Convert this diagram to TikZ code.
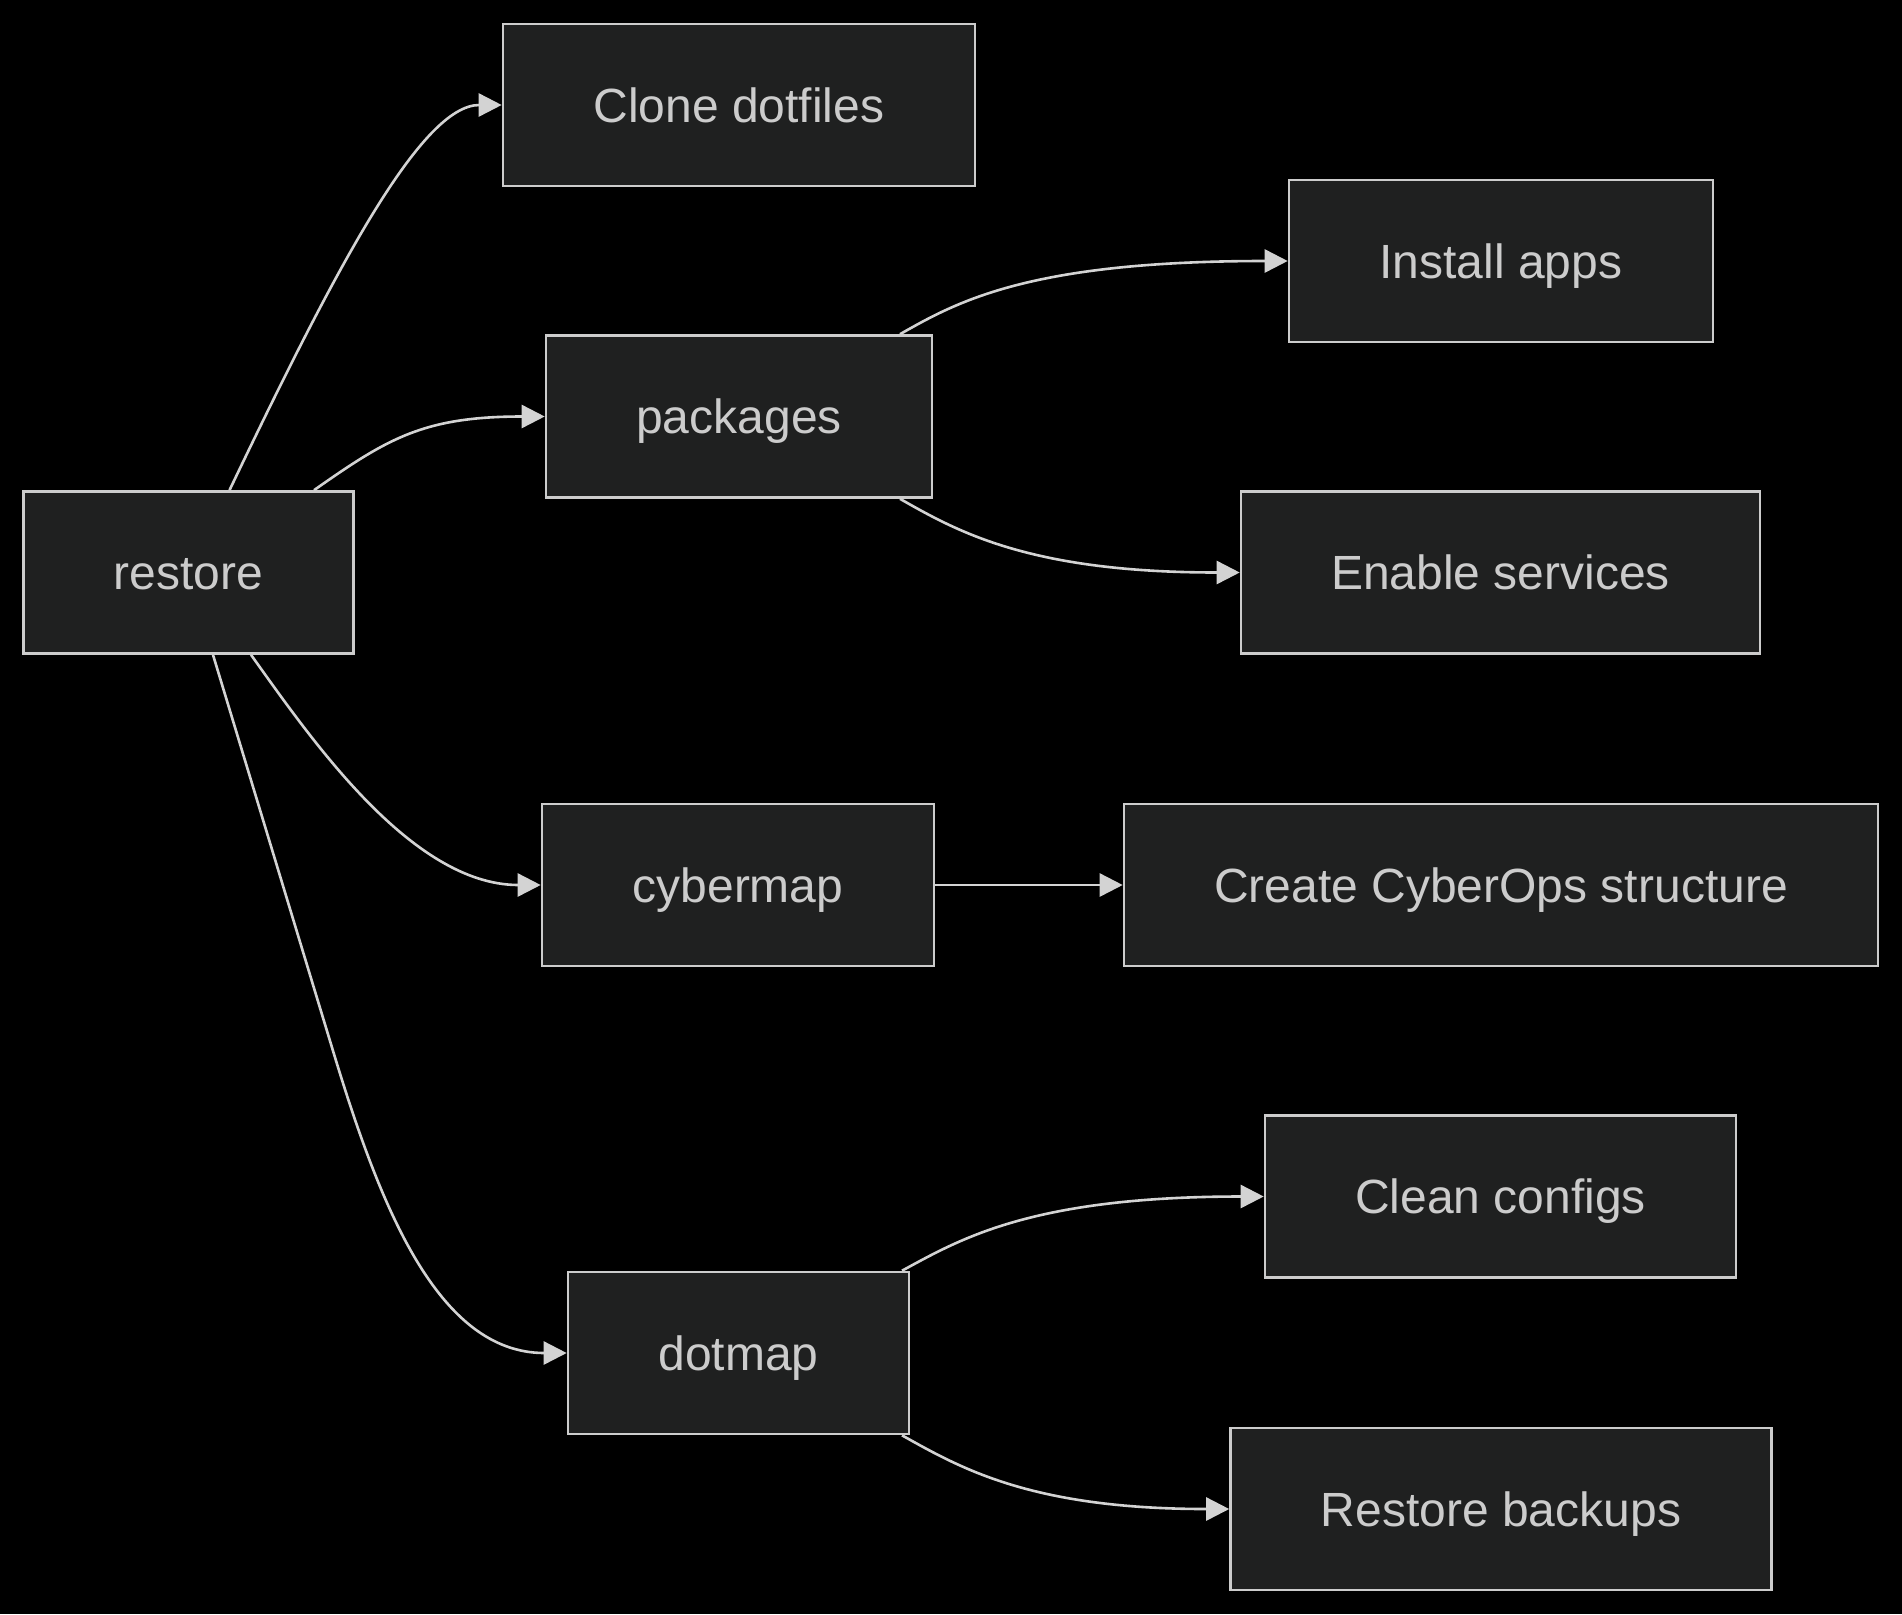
\documentclass[tikz,border=0pt]{standalone}
\usepackage{fontspec}
\setmainfont{Liberation Sans}
\usetikzlibrary{arrows.meta,calc}
\definecolor{boxfill}{HTML}{1F2020}
\definecolor{boxline}{HTML}{CCCCCC}
\definecolor{txt}{HTML}{CCCCCC}
\definecolor{edge}{HTML}{D3D3D3}
\begin{document}
\begin{tikzpicture}[x=1pt,y=-1pt,
  box/.style={draw=boxline,fill=boxfill,line width=2.6pt,inner sep=0pt,
    minimum height=162pt,text height=34.8pt,text depth=0pt,text=txt,
    font=\fontsize{48pt}{58pt}\selectfont},
  conn/.style={draw=edge,line width=2.6pt,-{Triangle[length=23pt,width=23pt]}}]
\fill[black] (0,0) rectangle (1902,1614);
\useasboundingbox (0,0) rectangle (1902,1614);
\node[box,minimum width=330pt] (restore) at (188.5,572.5) {restore};
\node[box,minimum width=472pt] (clone) at (739,105) {Clone dotfiles};
\node[box,minimum width=386pt] (packages) at (739,416.5) {packages};
\node[box,minimum width=392pt] (cybermap) at (738,885) {cybermap};
\node[box,minimum width=341pt] (dotmap) at (738.5,1353) {dotmap};
\node[box,minimum width=424pt] (install) at (1501,261) {Install apps};
\node[box,minimum width=519pt] (enable) at (1500.5,572.5) {Enable services};
\node[box,minimum width=754pt] (create) at (1501,885) {Create CyberOps structure};
\node[box,minimum width=471pt] (clean) at (1500.5,1196.5) {Clean configs};
\node[box,minimum width=541pt] (restoreb) at (1501,1509) {Restore backups};

\draw[conn] ($(restore.north)+(41,0)$) .. controls +(107.5,-225) and +(-80,0) .. (clone.west);
\draw[conn] ($(restore.north)+(125.5,0)$) .. controls +(74,-52) and +(-121,0) .. (packages.west);
\draw[conn] ($(restore.south)+(62.5,0)$) .. controls +(58,81) and +(-130,0) .. (cybermap.west);
\draw[conn] ($(restore.south)+(24.5,0)$) -- ++(120,396) .. controls +(46,152) and +(-130,0) .. (dotmap.west);
\draw[conn] ($(packages.north)+(161,0)$) .. controls +(58,-33) and +(-258,0) .. (install.west);
\draw[conn] ($(packages.south)+(161,0)$) .. controls +(58,33) and +(-210,0) .. (enable.west);
\draw[conn] (cybermap.east) -- (create.west);
\draw[conn] ($(dotmap.north)+(163.5,0)$) .. controls +(59,-32) and +(-232,0) .. (clean.west);
\draw[conn] ($(dotmap.south)+(163.5,0)$) .. controls +(59,33) and +(-198,0) .. (restoreb.west);
\end{tikzpicture}
\end{document}
